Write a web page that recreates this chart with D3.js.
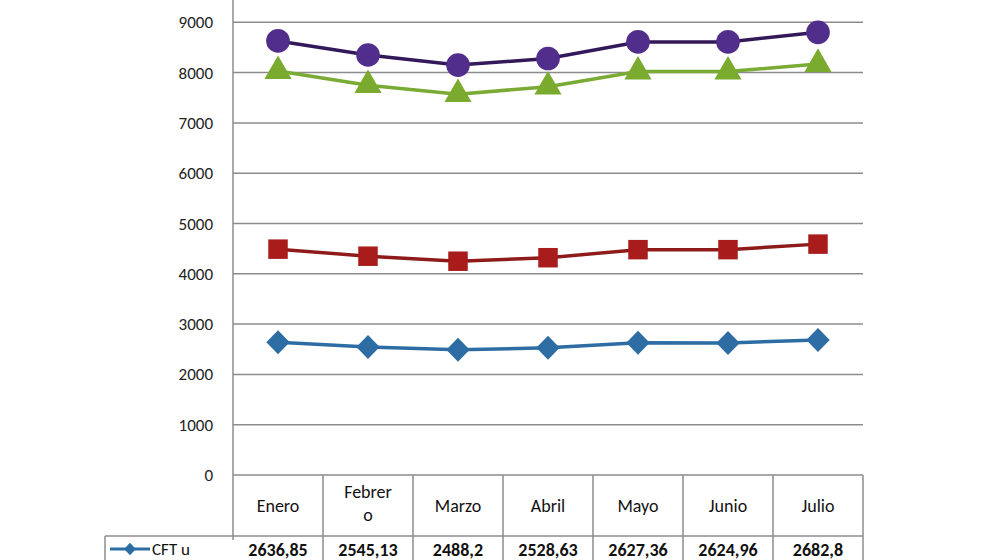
<!DOCTYPE html>
<html><head><meta charset="utf-8">
<script src="https://cdn.jsdelivr.net/npm/d3@7"></script>
<style>body{margin:0;background:#fff}text{font-family:Calibri,"Liberation Sans",Arial,sans-serif}</style>
</head><body><svg id="c" width="1000" height="560"></svg>
<script>
const months = ["Enero", "Febrero", "Marzo", "Abril", "Mayo", "Junio", "Julio"];
const monthLabels = [["Enero"], ["Febrer", "o"], ["Marzo"], ["Abril"], ["Mayo"], ["Junio"], ["Julio"]];
const cftu = [2636.85, 2545.13, 2488.2, 2528.63, 2627.36, 2624.96, 2682.8];
const cftuText = ["2636,85", "2545,13", "2488,2", "2528,63", "2627,36", "2624,96", "2682,8"];
const red = [4490, 4350, 4250, 4320, 4480, 4480, 4590];
const green = [8030, 7750, 7570, 7720, 8020, 8020, 8170];
const purple = [8630, 8350, 8150, 8280, 8610, 8610, 8800];
const yTicks = [0, 1000, 2000, 3000, 4000, 5000, 6000, 7000, 8000, 9000];

const svg = d3.select("#c");
const x = d3.scaleBand().domain(months).range([233, 863]);
const y = d3.scaleLinear().domain([0, 10000]).range([475, -28]);
const cx = (d, i) => x(months[i]) + x.bandwidth() / 2;

svg.selectAll("line.grid").data(yTicks.slice(1)).join("line")
  .attr("x1", 233).attr("x2", 863).attr("y1", y).attr("y2", y)
  .attr("stroke", "#8c8c8c").attr("stroke-width", 1.5);
svg.selectAll("text.yt").data(yTicks).join("text")
  .attr("x", 213).attr("y", d => y(d) + 6).attr("text-anchor", "end")
  .attr("font-size", 17).attr("fill", "#222").text(d => d);
svg.append("line").attr("x1", 233).attr("x2", 233).attr("y1", 0).attr("y2", 540)
  .attr("stroke", "#8c8c8c").attr("stroke-width", 1.5);

// table grid
const g = "#8c8c8c";
svg.append("line").attr("x1", 233).attr("x2", 863).attr("y1", 475).attr("y2", 475).attr("stroke", g).attr("stroke-width", 1.5);
svg.append("line").attr("x1", 105).attr("x2", 863).attr("y1", 536).attr("y2", 536).attr("stroke", g).attr("stroke-width", 1.5);
svg.append("line").attr("x1", 105).attr("x2", 105).attr("y1", 536).attr("y2", 560).attr("stroke", g).attr("stroke-width", 1.5);
svg.selectAll("line.col").data(months).join("line")
  .attr("x1", d => x(d) + x.bandwidth()).attr("x2", d => x(d) + x.bandwidth())
  .attr("y1", 475).attr("y2", 560).attr("stroke", g).attr("stroke-width", 1.5);
svg.selectAll("text.mh").data(monthLabels).join("text")
  .attr("x", (d, i) => cx(d, i)).attr("y", d => d.length > 1 ? 498 : 512)
  .attr("text-anchor", "middle").attr("font-size", 18).attr("fill", "#111")
  .selectAll("tspan").data(d => d).join("tspan")
  .attr("x", function () { return this.parentNode.getAttribute("x"); })
  .attr("dy", (d, i) => i ? 23 : 0).text(d => d);
svg.selectAll("text.val").data(cftuText).join("text")
  .attr("x", (d, i) => cx(d, i)).attr("y", 556).attr("text-anchor", "middle")
  .attr("font-size", 18).attr("font-weight", "bold").attr("fill", "#111").text(d => d);
svg.append("line").attr("x1", 110).attr("x2", 150).attr("y1", 549).attr("y2", 549).attr("stroke", "#2e6da4").attr("stroke-width", 3);
svg.append("path").attr("d", d3.symbol(d3.symbolDiamond, 70)()).attr("transform", "translate(130,549) scale(1.3,0.8)").attr("fill", "#2e6da4");
svg.append("text").attr("x", 152).attr("y", 555).attr("font-size", 17).attr("fill", "#111").text("CFT u");

const series = [
  { v: cftu, line: "#2e6da4", fill: "#2e6da4", sym: d3.symbolDiamond, size: 260, sc: "scale(1.35,0.8)" },
  { v: red, line: "#8f1a1a", fill: "#a81c1c", sym: d3.symbolSquare, size: 380, sc: "" },
  { v: green, line: "#7aab35", fill: "#7aab2f", sym: d3.symbolTriangle, size: 320, sc: "" },
  { v: purple, line: "#34195a", fill: "#512d8c", sym: d3.symbolCircle, size: 440, sc: "" }
];
const line = d3.line().x((d, i) => cx(d, i)).y(d => y(d));
series.forEach(s => {
  svg.append("path").attr("d", line(s.v)).attr("fill", "none").attr("stroke", s.line).attr("stroke-width", 3.5);
  svg.selectAll(null).data(s.v).join("path")
    .attr("d", d3.symbol(s.sym, s.size)())
    .attr("transform", (d, i) => `translate(${cx(d, i)},${y(d)}) ${s.sc}`).attr("fill", s.fill);
});
</script></body></html>
